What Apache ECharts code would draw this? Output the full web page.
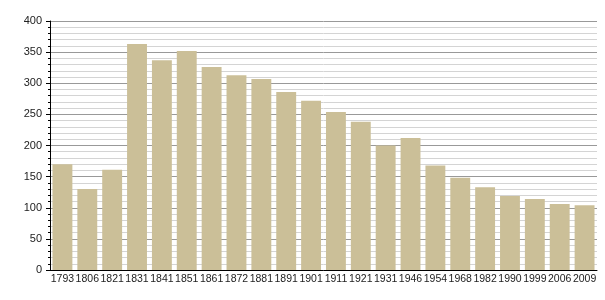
<!DOCTYPE html>
<html><head><meta charset="utf-8">
<script src="https://cdn.jsdelivr.net/npm/echarts@6/dist/echarts.min.js"></script>
<style>html,body{margin:0;padding:0;background:#fff}#c{width:605px;height:300px}</style>
</head><body><div id="c"></div>
<script>
const years = ['1793','1806','1821','1831','1841','1851','1861','1872','1881','1891','1901','1911','1921','1931','1946','1954','1968','1982','1990','1999','2006','2009'];
const population = [170,130,161,363,337,352,326,313,307,286,272,254,238,200,212,168,148,133,119,114,106,104];
const yTicks = [0,50,100,150,200,250,300,350,400];

const chart = echarts.init(document.getElementById('c'), null, {renderer:'canvas'});
chart.setOption({
  animation:false,
  grid:{left:50,right:8,top:21,bottom:30,containLabel:false},
  xAxis:{type:'category',data:years,
    axisLine:{lineStyle:{color:'#000',width:1}},
    axisTick:{show:false},
    axisLabel:{color:'#222',fontSize:10.5,fontFamily:'Liberation Sans, Arial, sans-serif',margin:4,interval:0}},
  yAxis:{type:'value',min:yTicks[0],max:yTicks[yTicks.length-1],interval:50,
    axisLine:{show:true,lineStyle:{color:'#000',width:1}},
    axisTick:{show:true,length:4,lineStyle:{color:'#000'}},
    minorTick:{show:true,splitNumber:5,length:2,lineStyle:{color:'#000'}},
    axisLabel:{color:'#222',fontSize:11,fontFamily:'Liberation Sans, Arial, sans-serif',margin:8},
    splitLine:{show:true,lineStyle:{color:'#999',width:1}},
    minorSplitLine:{show:true,lineStyle:{color:'#d4d4d4',width:1}}},
  series:[{type:'bar',data:population,barCategoryGap:'20%',
    itemStyle:{color:'#cbbf98'}}]
});
</script></body></html>
